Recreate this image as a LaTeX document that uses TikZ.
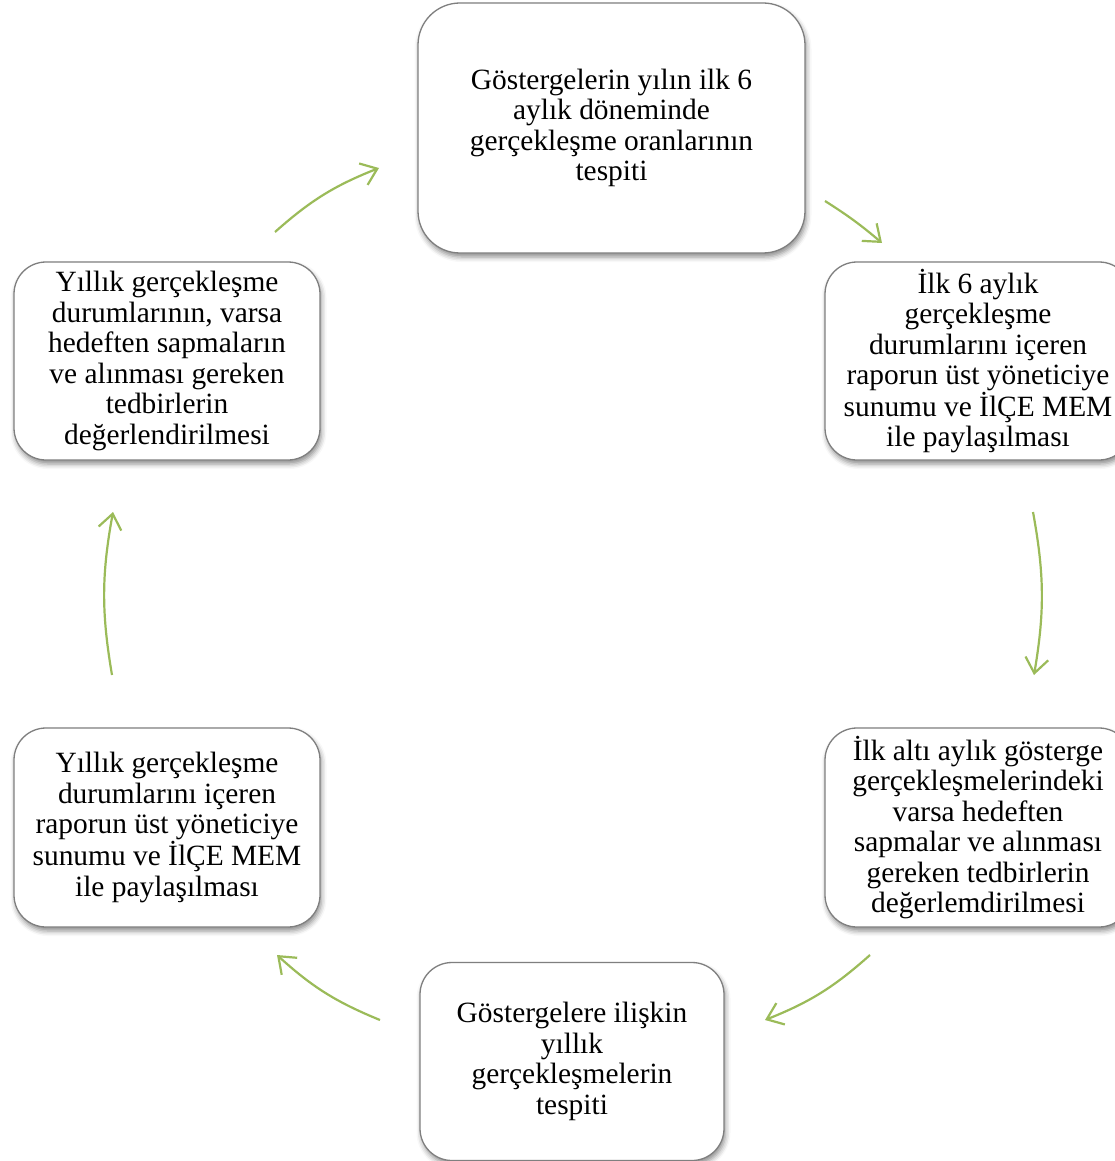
\documentclass[tikz,border=0pt]{standalone}
\usepackage{fontspec}
\setmainfont{Liberation Serif}
\usetikzlibrary{arrows.meta,shadows.blur}
\definecolor{arrowgreen}{HTML}{9BBB59}
\definecolor{boxedge}{HTML}{7F7F7F}
\tikzset{
  stepbox/.style={draw=boxedge, line width=1.3pt, fill=white, rounded corners=32pt,
    align=center, font=\fontsize{29.4}{30.5}\selectfont, inner sep=0pt,
    blur shadow={shadow xshift=1.5pt, shadow yshift=-4pt, shadow blur radius=5pt, shadow opacity=45}},
  cyclearrow/.style={draw=arrowgreen, line width=2.2pt,
    -{Straight Barb[length=15pt,width=23pt,line width=2.2pt]}}
}
\begin{document}
\begin{tikzpicture}[x=1pt,y=-1pt]
\useasboundingbox (0,0) rectangle (1115,1161);
\node[stepbox, minimum width=387pt, minimum height=250pt, rounded corners=42pt] (top) at (611.5,128)
  {Göstergelerin yılın ilk 6\\aylık döneminde\\gerçekleşme oranlarının\\tespiti};
\node[stepbox, minimum width=306pt, minimum height=198pt] (ru) at (978,361)
  {İlk 6 aylık\\gerçekleşme\\durumlarını içeren\\raporun üst yöneticiye\\sunumu ve İlÇE MEM\\ile paylaşılması};
\node[stepbox, minimum width=306pt, minimum height=199pt] (rl) at (978,827.5)
  {İlk altı aylık gösterge\\gerçekleşmelerindeki\\varsa hedeften\\sapmalar ve alınması\\gereken tedbirlerin\\değerlemdirilmesi};
\node[stepbox, minimum width=304pt, minimum height=198pt] (bot) at (572,1061.5)
  {Göstergelere ilişkin\\yıllık\\gerçekleşmelerin\\tespiti};
\node[stepbox, minimum width=306pt, minimum height=199pt] (ll) at (167,827.5)
  {Yıllık gerçekleşme\\durumlarını içeren\\raporun üst yöneticiye\\sunumu ve İlÇE MEM\\ile paylaşılması};
\node[stepbox, minimum width=306pt, minimum height=198pt] (lu) at (167,361)
  {Yıllık gerçekleşme\\durumlarının, varsa\\hedeften sapmaların\\ve alınması gereken\\tedbirlerin\\değerlendirilmesi};

\coordinate (a1s) at (275,232); \coordinate (a1e) at (379,168);
\coordinate (a2s) at (825,201); \coordinate (a2e) at (882,243);
\coordinate (a3s) at (1033,512); \coordinate (a3e) at (1034,675);
\coordinate (a4s) at (870,955); \coordinate (a4e) at (765,1020);
\coordinate (a5s) at (380,1020); \coordinate (a5e) at (277,955);
\coordinate (a6s) at (112,675); \coordinate (a6e) at (113,512);

\draw[cyclearrow] (a1s) to[bend left=10] (a1e);
\draw[cyclearrow] (a2s) to[bend left=4] (a2e);
\draw[cyclearrow] (a3s) to[bend left=10] (a3e);
\draw[cyclearrow] (a4s) to[bend left=10] (a4e);
\draw[cyclearrow] (a5s) to[bend left=10] (a5e);
\draw[cyclearrow] (a6s) to[bend left=10] (a6e);
\end{tikzpicture}
\end{document}
